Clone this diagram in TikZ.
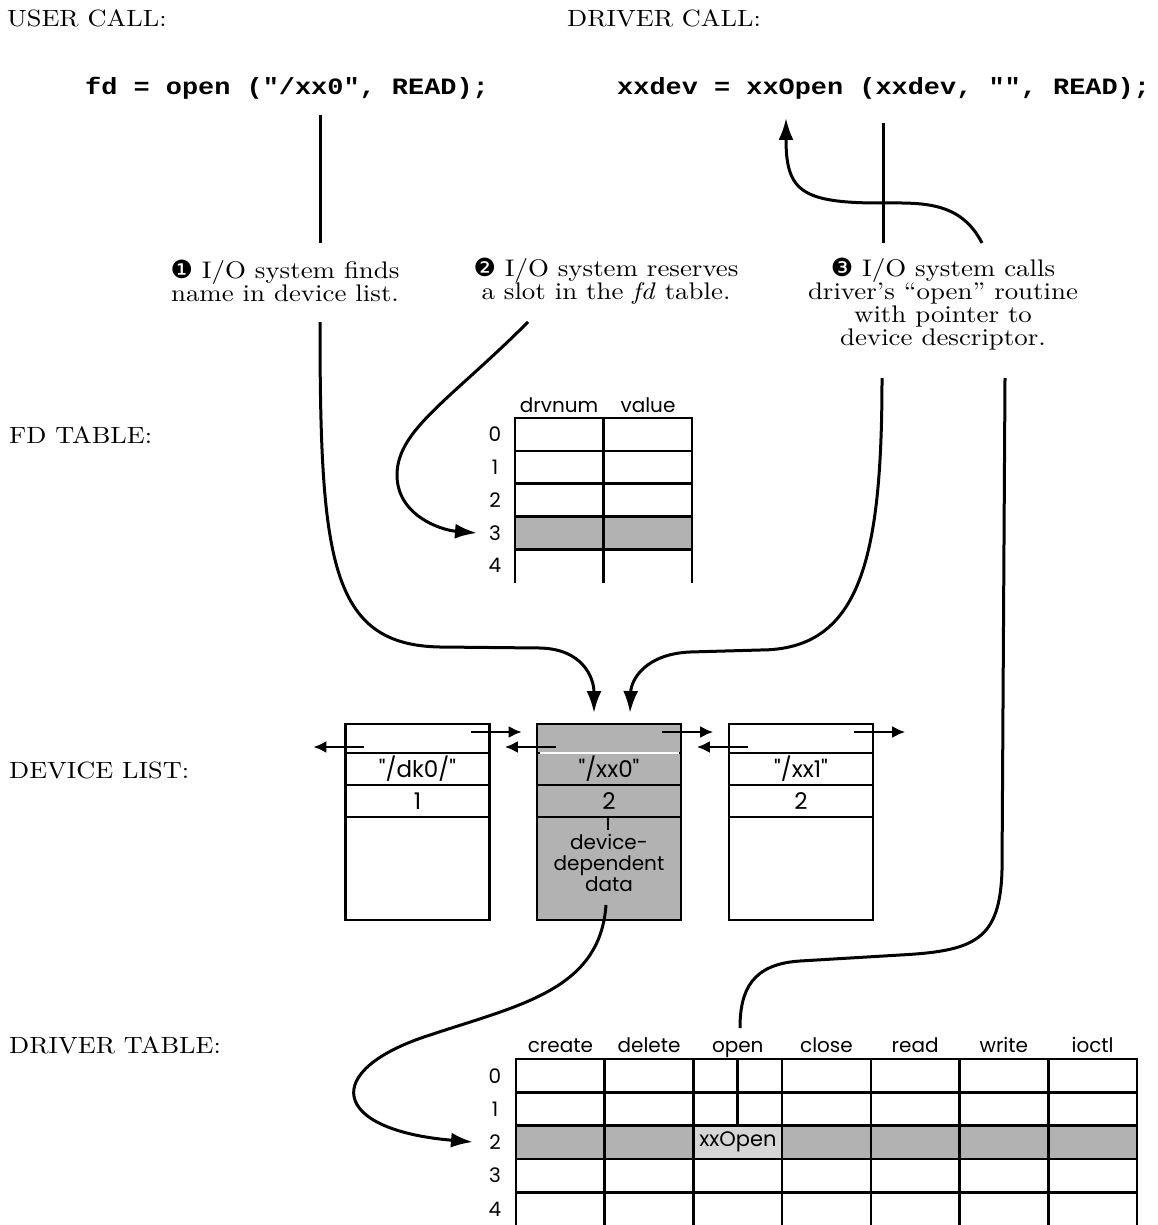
\documentclass[tikz,border=0pt]{standalone}
\usepackage{fontspec}
\usetikzlibrary{arrows.meta}
\newfontfamily\labelface{lmroman10}[Extension=.otf, UprightFont=*-regular, ItalicFont=*-italic, FakeStretch=1.12]
\newfontfamily\codeface{Liberation Mono}[FakeStretch=1.15]
\newfontfamily\tabface{Poppins}
\newfontfamily\dingface{DejaVu Sans}
\tikzset{
  heading/.style={font=\labelface\fontsize{23.5}{25}\selectfont, anchor=base west, inner sep=0pt},
  code/.style={font=\codeface\bfseries\fontsize{23.4}{26}\selectfont, anchor=base west, inner sep=0pt},
  callout/.style={font=\labelface\fontsize{24}{23}\selectfont, align=center, inner sep=0pt},
  tab/.style={font=\tabface\fontsize{20}{22}\selectfont, inner sep=0pt},
  hdr/.style={tab, anchor=base},
  grid/.style={line width=2.6pt, line cap=rect},
  conn/.style={line width=3pt},
  tip/.style={-{Latex[length=22pt,width=15pt]}},
  link/.style={line width=2.4pt, -{Latex[length=13pt,width=12pt]}},
  shade/.style={fill=black!30},
  lightshade/.style={fill=black!16},
  devcell/.style={draw, line width=2.4pt, minimum width=144pt, inner sep=0pt, font=\tabface\fontsize{23}{24}\selectfont},
  ptrrow/.style={devcell, minimum height=29pt},
  namerow/.style={devcell, minimum height=32pt},
  datarow/.style={devcell, minimum height=103pt},
}
\newcommand{\num}[1]{{\dingface\fontsize{25}{23}\selectfont #1}}
\begin{document}
\begin{tikzpicture}[x=1pt, y=-1pt]
\fill[white] (0,0) rectangle (1157,1225);
\useasboundingbox (0,0) rectangle (1157,1225);

% section headings
\node[heading] (usercall) at (7,27) {USER CALL:};
\node[heading] (drivercall) at (567,27) {DRIVER CALL:};
\node[heading] (fdlabel) at (9,443) {FD TABLE:};
\node[heading] (devlabel) at (9,778) {DEVICE LIST:};
\node[heading] (drvlabel) at (9,1053) {DRIVER TABLE:};

% the two calls
\node[code] (ucall) at (85,95) {fd = open ("/xx0", READ);};
\node[code] (dcall) at (617,95) {xxdev = xxOpen (xxdev, "", READ);};

% numbered steps
\node[callout] (c1) at (285,281) {\num{❶} I/O system finds\\name in device list.};
\node[callout] (c2) at (606,281) {\num{❷} I/O system reserves\\a slot in the \textit{fd} table.};
\node[callout] (c3) at (943,304) {\num{❸} I/O system calls\\driver’s “open” routine\\with pointer to\\device descriptor.};

% ---------- fd table ----------
\fill[shade] (515,516.4) rectangle (692,549.2);
\foreach \y in {418,450.8,483.6,516.4,549.2} \draw[grid] (515,\y) -- (692,\y);
\foreach \x in {515,603.5,692} \draw[grid] (\x,418) -- (\x,582);
\node[hdr] (fdh1) at (559,412) {drvnum};
\node[hdr] (fdh2) at (648,412) {value};
\foreach \r/\y in {0/434.4,1/467.2,2/500,3/532.8,4/565.6}
  \node[tab] (fd\r) at (495,\y) {\r};

% ---------- device list ----------
% /dk0/ entry
\node[ptrrow]  (dkptr)  at (417.5,738.5) {};
\node[namerow] (dkname) at (417.5,769) {"/dk0/"};
\node[namerow] (dknum)  at (417.5,801) {1};
\node[datarow] (dkdata) at (417.5,868.5) {};
% /xx0 entry (selected)
\node[ptrrow, shade]  (xxptr)  at (609,738.5) {};
\node[namerow, shade] (xxname) at (609,769) {"/xx0"};
\node[namerow, shade] (xxnum)  at (609,801) {2};
\node[datarow, shade] (xxdata) at (609,868.5) {};
\draw[white, line width=1.6pt] (539.5,753) -- (678.5,753);
\node[tab, align=center, font=\tabface\fontsize{20}{21}\selectfont] (xxtext) at (609,863) {device-\\dependent\\data};
\draw[line width=2.4pt] (608,817) -- (608,830);
% /xx1 entry
\node[ptrrow]  (x1ptr)  at (801,738.5) {};
\node[namerow] (x1name) at (801,769) {"/xx1"};
\node[namerow] (x1num)  at (801,801) {2};
\node[datarow] (x1data) at (801,868.5) {};
% list links
\foreach \n in {dkptr,xxptr,x1ptr} {
  \draw[link] ([shift={(-20,-6.5)}]\n.east) -- ++(51,0);
  \draw[link] ([shift={(20,8.5)}]\n.west) -- ++(-51,0);
}

% ---------- driver table ----------
\fill[shade] (516,1125.6) rectangle (1137,1158.9);
\fill[lightshade] (693.4,1125.6) rectangle (782.1,1158.9);
\foreach \y in {1059,1092.3,1125.6,1158.9,1192.2} \draw[grid] (516,\y) -- (1137,\y);
\foreach \x in {516,604.7,693.4,782.1,870.8,959.5,1048.2,1137} \draw[grid] (\x,1059) -- (\x,1226);
\foreach \name/\x [count=\i] in {create/560.35,delete/649.05,open/737.75,close/826.45,read/915.15,write/1003.85,ioctl/1092.6}
  \node[hdr] (drh\i) at (\x,1052) {\name};
\foreach \r/\y in {0/1075.65,1/1108.95,2/1142.25,3/1175.55,4/1208.85}
  \node[tab] (dr\r) at (495,\y) {\r};
\node[tab, font=\tabface\fontsize{21}{22}\selectfont] (xxopen) at (738,1142.25) {xxOpen};
\draw[line width=2.6pt] (737.5,1059) -- (737.5,1125.6);

% ---------- connectors ----------
\coordinate (u1) at (320,115);
\coordinate (u2) at (320,243);
\coordinate (u3) at (320,322);
\coordinate (d1) at (883,123);
\coordinate (d2) at (883,243);
\coordinate (s2) at (528,322);
\coordinate (s3a) at (982,243);
\coordinate (s3b) at (882,378);
\coordinate (s3c) at (1005,378);
\coordinate (ddat) at (606,905);
\coordinate (tipA) at (594,713);
\coordinate (tipB) at (630,713);
\coordinate (tipFd) at (477,533);
\coordinate (tipDr) at (473,1142);
\coordinate (tipCall) at (786,118);
\coordinate (openend) at (740,1028);

\draw[conn] (u1) -- (u2);
\draw[conn] (d1) -- (d2);
% step 1: name lookup in the device list
\draw[conn,tip] (u3) .. controls (320,560) and (330,645) .. (440,647) -- (540,648) .. controls (583,649) and (594,678) .. (tipA);
% step 2: slot reserved in the fd table
\draw[conn,tip] (s2) .. controls (450,400) and (397,430) .. (397,475) .. controls (397,515) and (440,530) .. (tipFd);
% step 3: driver open routine is called
\draw[conn,tip] (s3a) .. controls (960,200) and (920,203) .. (880,203) .. controls (800,203) and (786,190) .. (tipCall);
\draw[conn,tip] (s3b) .. controls (882,560) and (860,650) .. (760,650) -- (690,652) .. controls (645,654) and (631,680) .. (tipB);
\draw[conn] (s3c) -- (1002,870) .. controls (1000,940) and (975,951) .. (900,955) -- (800,961) .. controls (752,964) and (740,990) .. (openend);
% driver number indexes the driver table
\draw[conn,tip] (ddat) .. controls (600,990) and (520,1005) .. (430,1035) .. controls (320,1070) and (330,1130) .. (tipDr);
\end{tikzpicture}
\end{document}
